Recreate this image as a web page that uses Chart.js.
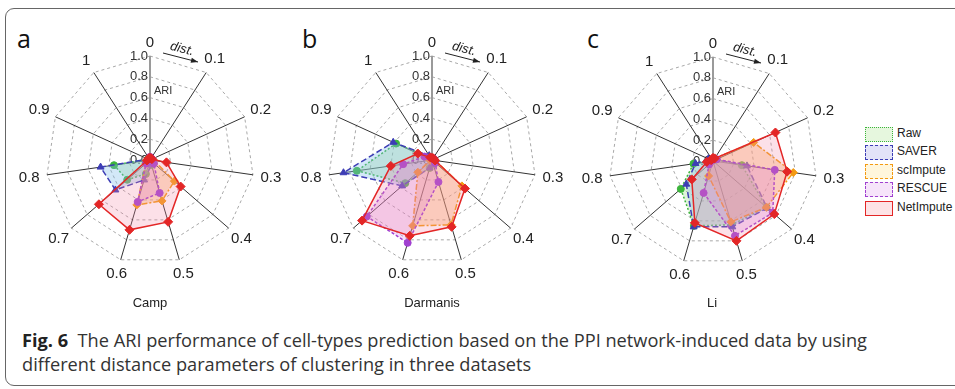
<!DOCTYPE html>
<html>
<head>
<meta charset="utf-8">
<script src="https://cdn.jsdelivr.net/npm/chart.js@4.4.1/dist/chart.umd.min.js"></script>
<style>
body { margin: 0; background: #fff; width: 955px; height: 389px; overflow: hidden; position: relative; font-family: 'Liberation Sans', Arial, sans-serif; }
.frame { position: absolute; left: 5px; top: 8px; width: 975px; height: 378px; border: 1.5px solid #666; border-radius: 9px; box-sizing: border-box; }
canvas { position: absolute; }
.letter { position: absolute; top: 26px; font-family: 'Open Sans', sans-serif; font-size: 25px; line-height: 24px; color: #111; }
.title { position: absolute; top: 295px; font-size: 13px; color: #222; transform: translateX(-50%); }
.caption { position: absolute; left: 22px; top: 328px; font-family: 'Open Sans', sans-serif; font-size: 18.2px; line-height: 24px; color: #333; white-space: nowrap; }
.caption b { color: #222; }
.legend { position: absolute; left: 865px; top: 127px; }
.legend .row { height: 18.4px; position: relative; }
.legend .box { position: absolute; left: 0; top: 0; width: 26px; height: 13px; }
.legend .lab { position: absolute; left: 32px; top: -1px; font-size: 12px; color: #222; }
</style>
</head>
<body>
<div class="frame"></div>
<div class="letter" style="left:17px">a</div>
<div class="letter" style="left:302px">b</div>
<div class="letter" style="left:587px">c</div>
<canvas id="camp" width="290" height="280" style="left:0px;top:20px"></canvas>
<canvas id="darmanis" width="290" height="280" style="left:290px;top:20px"></canvas>
<canvas id="li" width="280" height="280" style="left:575px;top:20px"></canvas>
<div class="title" style="left:150px">Camp</div>
<div class="title" style="left:432px">Darmanis</div>
<div class="title" style="left:712px">Li</div>
<div class="legend" id="legend"></div>
<div class="caption"><b>Fig. 6</b>&nbsp; The ARI performance of cell-types prediction based on the PPI network-induced data by using<br>different distance parameters of clustering in three datasets</div>
<script>
// axis categories (distance parameter) and ARI ticks
const distLabels = ['0', '0.1', '0.2', '0.3', '0.4', '0.5', '0.6', '0.7', '0.8', '0.9', '1'];
const tickValues = [0, 0.2, 0.4, 0.6, 0.8, 1.0];
const tickLabels = ['0.0', '0.2', '0.4', '0.6', '0.8', '1.0'];
const methods = ['Raw', 'SAVER', 'scImpute', 'RESCUE', 'NetImpute'];

// Camp
const campRaw       = [0.02, 0.01, 0.01, 0.02, 0.03, 0.05, 0.14, 0.29, 0.35, 0.02, 0.01];
const campSaver     = [0.02, 0.01, 0.01, 0.01, 0.02, 0.05, 0.20, 0.44, 0.48, 0.02, 0.01];
const campScImpute  = [0.02, 0.02, 0.02, 0.04, 0.31, 0.41, 0.45, 0.05, 0.02, 0.01, 0.01];
const campRescue    = [0.03, 0.02, 0.02, 0.03, 0.05, 0.33, 0.42, 0.05, 0.02, 0.01, 0.01];
const campNetImpute = [0.02, 0.02, 0.02, 0.16, 0.39, 0.62, 0.70, 0.65, 0.03, 0.02, 0.02];

// Darmanis
const darRaw       = [0.02, 0.01, 0.01, 0.01, 0.02, 0.03, 0.08, 0.34, 0.73, 0.38, 0.03];
const darSaver     = [0.02, 0.01, 0.01, 0.01, 0.02, 0.05, 0.08, 0.38, 0.86, 0.41, 0.05];
const darScImpute  = [0.02, 0.02, 0.02, 0.03, 0.38, 0.65, 0.66, 0.18, 0.02, 0.01, 0.01];
const darRescue    = [0.02, 0.02, 0.02, 0.02, 0.04, 0.22, 0.83, 0.83, 0.28, 0.08, 0.03];
const darNetImpute = [0.02, 0.02, 0.02, 0.03, 0.42, 0.67, 0.76, 0.89, 0.40, 0.15, 0.03];

// Li
const liRaw       = [0.02, 0.02, 0.03, 0.28, 0.68, 0.64, 0.65, 0.41, 0.19, 0.02, 0.01];
const liSaver     = [0.02, 0.02, 0.03, 0.33, 0.69, 0.66, 0.66, 0.34, 0.17, 0.05, 0.01];
const liScImpute  = [0.02, 0.03, 0.43, 0.78, 0.68, 0.61, 0.15, 0.05, 0.03, 0.02, 0.01];
const liRescue    = [0.02, 0.02, 0.04, 0.60, 0.76, 0.75, 0.32, 0.05, 0.02, 0.02, 0.01];
const liNetImpute = [0.03, 0.03, 0.66, 0.72, 0.78, 0.80, 0.62, 0.27, 0.06, 0.02, 0.02];

// series styling
const styles = {
    Raw:       { line: '#3cb43c', fill: 'rgba(150,220,130,0.30)', dash: [2, 2],       point: 'circle',   r: 3.5, box: '#e6f7de' },
    SAVER:     { line: '#3d3db5', fill: 'rgba(130,190,235,0.35)', dash: [6, 3],       point: 'triangle', r: 4,   box: '#e3e3f8' },
    scImpute:  { line: '#f39a12', fill: 'rgba(250,175,100,0.38)', dash: [6, 2, 2, 2], point: 'rectRot',  r: 4,   box: '#fff6dc' },
    RESCUE:    { line: '#a040d0', fill: 'rgba(215,120,235,0.25)', dash: [3, 2],       point: 'circle',   r: 3.5, box: '#f6e4fa' },
    NetImpute: { line: '#e32626', fill: 'rgba(245,130,165,0.25)', dash: [],           point: 'rectRot',  r: 4.5, box: '#fde3e6' }
};

const R = 104;

// ticks, ARI label, point labels and the dist. arrow
const decor = {
    id: 'decor',
    beforeDatasetsDraw(chart) {
        const s = chart.scales.r, ctx = chart.ctx;
        const cx = s.xCenter, cy = s.yCenter;
        ctx.save();
        ctx.font = '13px "Liberation Sans", Arial, sans-serif';
        ctx.fillStyle = '#333';
        ctx.textAlign = 'right';
        ctx.textBaseline = 'middle';
        tickValues.forEach((v, i) => {
            ctx.fillText(tickLabels[i], cx - 2, cy - s.getDistanceFromCenterForValue(v));
        });
        ctx.font = '11px "Liberation Sans", Arial, sans-serif';
        ctx.textAlign = 'left';
        ctx.fillText('ARI', cx + 4, cy - s.getDistanceFromCenterForValue(0.66));
        ctx.restore();
    },
    afterDraw(chart) {
        const s = chart.scales.r, ctx = chart.ctx;
        const cx = s.xCenter, cy = s.yCenter;
        ctx.save();
        ctx.font = '15px "Liberation Sans", Arial, sans-serif';
        ctx.fillStyle = '#222';
        ctx.textAlign = 'center';
        ctx.textBaseline = 'middle';
        distLabels.forEach((lab, i) => {
            const a = i * 2 * Math.PI / distLabels.length;
            const w = ctx.measureText(lab).width;
            const p = s.getPointPosition(i, s.drawingArea + 13 + 0.25 * w * Math.abs(Math.sin(a)));
            ctx.fillText(lab, p.x, p.y);
        });
        // dist. arrow
        const x0 = cx + 13, y0 = cy - 107, x1 = cx + 48, y1 = cy - 98;
        ctx.strokeStyle = '#222';
        ctx.lineWidth = 1;
        ctx.beginPath();
        ctx.moveTo(x0, y0);
        ctx.lineTo(x1, y1);
        ctx.stroke();
        const ang = Math.atan2(y1 - y0, x1 - x0);
        ctx.beginPath();
        ctx.moveTo(x1, y1);
        ctx.lineTo(x1 - 7 * Math.cos(ang) + 2.5 * Math.sin(ang), y1 - 7 * Math.sin(ang) - 2.5 * Math.cos(ang));
        ctx.lineTo(x1 - 7 * Math.cos(ang) - 2.5 * Math.sin(ang), y1 - 7 * Math.sin(ang) + 2.5 * Math.cos(ang));
        ctx.closePath();
        ctx.fillStyle = '#222';
        ctx.fill();
        ctx.translate(cx + 32, cy - 111);
        ctx.rotate(ang);
        ctx.font = 'italic 13px "Liberation Sans", Arial, sans-serif';
        ctx.fillText('dist.', 0, 0);
        ctx.restore();
    }
};

function makeRadar(canvasId, cx, cy, seriesData) {
    const canvas = document.getElementById(canvasId);
    const W = canvas.width, H = canvas.height;
    new Chart(canvas.getContext('2d'), {
        type: 'radar',
        data: {
            labels: distLabels,
            datasets: methods.map((m, k) => ({
                label: m,
                data: seriesData[k],
                borderColor: styles[m].line,
                backgroundColor: styles[m].fill,
                borderDash: styles[m].dash,
                borderWidth: 1.5,
                fill: true,
                pointStyle: styles[m].point,
                pointRadius: styles[m].r,
                pointBackgroundColor: styles[m].line,
                pointBorderColor: styles[m].line,
                pointBorderWidth: 1,
                order: methods.length - k
            }))
        },
        options: {
            responsive: false,
            animation: false,
            layout: { padding: { left: cx - R, right: W - cx - R, top: cy - R, bottom: H - cy - R } },
            elements: { line: { tension: 0 } },
            plugins: { legend: { display: false }, tooltip: { enabled: false } },
            scales: {
                r: {
                    min: 0,
                    max: 1,
                    ticks: { display: false, stepSize: 0.2 },
                    pointLabels: { display: false },
                    grid: { circular: false, color: '#a8a8a8', lineWidth: 1 },
                    border: { dash: [3, 3] },
                    angleLines: {
                        color: ctx => ctx.index === 0 ? '#9a9a9a' : '#333',
                        lineWidth: ctx => ctx.index === 0 ? 2 : 1
                    }
                }
            }
        },
        plugins: [decor]
    });
}

makeRadar('camp', 150, 140, [campRaw, campSaver, campScImpute, campRescue, campNetImpute]);
makeRadar('darmanis', 142, 140, [darRaw, darSaver, darScImpute, darRescue, darNetImpute]);
makeRadar('li', 138, 141, [liRaw, liSaver, liScImpute, liRescue, liNetImpute]);

// legend
const legend = document.getElementById('legend');
methods.forEach(m => {
    const st = styles[m];
    const row = document.createElement('div');
    row.className = 'row';
    const box = document.createElement('div');
    box.className = 'box';
    box.style.background = st.box;
    box.style.border = '1.5px ' + (st.dash.length ? 'dashed' : 'solid') + ' ' + st.line;
    if (m === 'Raw') box.style.borderStyle = 'dotted';
    const lab = document.createElement('div');
    lab.className = 'lab';
    lab.textContent = m;
    row.appendChild(box);
    row.appendChild(lab);
    legend.appendChild(row);
});
</script>
</body>
</html>
